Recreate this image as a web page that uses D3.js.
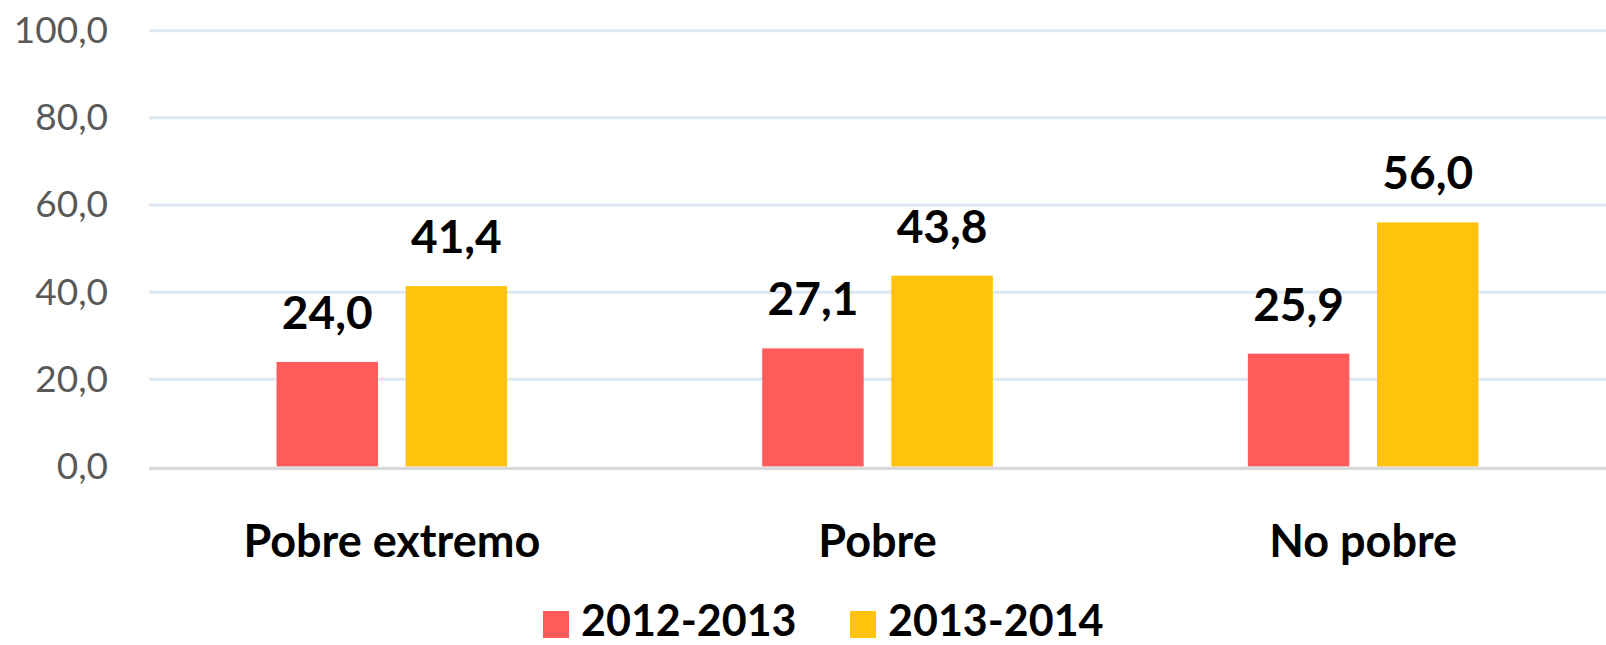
<!DOCTYPE html>
<html>
<head>
<meta charset="utf-8">
<script src="https://cdn.jsdelivr.net/npm/d3@7"></script>
<style>
    body { margin: 0; background: #fff; }
    text { font-family: Lato, "Open Sans", sans-serif; }
</style>
</head>
<body>
<script>
// data
var categories = ["Pobre extremo", "Pobre", "No pobre"]
  , seriesNames = ["2012-2013", "2013-2014"]
  , values2012 = [24.0, 27.1, 25.9]
  , values2013 = [41.4, 43.8, 56.0]
  , yTicks = [0, 20, 40, 60, 80, 100]
  ;

var width = 1606
  , height = 645
  , colors = ["#ff5b5b", "#fec30a"]
  , groupWidth = 230.6
  , fmt = function (v) { return d3.format(".1f")(v).replace(".", ","); }
  ;

var svg = d3.select("body").append("svg").attr("width", width).attr("height", height);

var x = d3.scaleBand().domain(categories).range([149, 1606]);
var y = d3.scaleLinear().domain([0, 100]).range([466.5, 30.7]);
var sub = d3.scaleBand().domain(seriesNames).range([0, groupWidth]).paddingInner(0.214);

function barX (d) { return x(d.cat) + (x.bandwidth() - groupWidth) / 2 + sub(d.s); }

// gridlines
svg.append("g").selectAll("line").data(yTicks.slice(1)).enter().append("line")
    .attr("x1", 149).attr("x2", width)
    .attr("y1", function (d) { return y(d); })
    .attr("y2", function (d) { return y(d); })
    .attr("stroke", "#dde7f3").attr("stroke-width", 3);

// y axis
var yAxis = svg.append("g").attr("transform", "translate(108,0)")
    .call(d3.axisLeft(y).tickValues(yTicks).tickFormat(fmt).tickSize(0).tickPadding(0));
yAxis.select(".domain").remove();
yAxis.selectAll("text")
    .attr("font-family", "Lato, sans-serif")
    .attr("font-size", 37)
    .attr("fill", "#595959");

// bars
var series = [values2012, values2013];
function rows (d, i) {
    return d.map(function (v, j) { return { cat: categories[j], s: seriesNames[i], v: v }; });
}
var groups = svg.append("g").selectAll("g").data(series).enter().append("g")
    .attr("fill", function (d, i) { return colors[i]; });

groups.selectAll("rect").data(rows).enter().append("rect")
    .attr("x", barX)
    .attr("y", function (d) { return y(d.v); })
    .attr("width", sub.bandwidth())
    .attr("height", function (d) { return y(0) - y(d.v); });

// value labels
groups.selectAll("text").data(rows).enter().append("text")
    .attr("x", function (d) { return barX(d) + sub.bandwidth() / 2; })
    .attr("y", function (d) { return y(d.v) - 33; })
    .attr("text-anchor", "middle")
    .attr("font-size", 46)
    .attr("font-weight", "bold")
    .attr("fill", "#000")
    .text(function (d) { return fmt(d.v); });

// baseline
svg.append("line")
    .attr("x1", 149).attr("x2", width)
    .attr("y1", y(0) + 1.8).attr("y2", y(0) + 1.8)
    .attr("stroke", "#d9d9d9").attr("stroke-width", 3.3);

// x axis labels
var xAxis = svg.append("g").attr("transform", "translate(0," + (y(0) + 2) + ")")
    .call(d3.axisBottom(x).tickSize(0).tickPadding(0));
xAxis.select(".domain").remove();
xAxis.selectAll("text")
    .attr("dy", null)
    .attr("y", 88)
    .attr("font-family", "Lato, sans-serif")
    .attr("font-size", 45)
    .attr("font-weight", "bold")
    .attr("fill", "#000");

// legend
var legendX = [543, 850];
var legend = svg.append("g").selectAll("g").data(seriesNames).enter().append("g")
    .attr("transform", function (d, i) { return "translate(" + legendX[i] + ",611)"; });
legend.append("rect")
    .attr("width", 26).attr("height", 27)
    .attr("fill", function (d, i) { return colors[i]; });
legend.append("text")
    .attr("x", 38).attr("y", 25)
    .attr("font-size", 43)
    .attr("font-weight", "bold")
    .attr("fill", "#000")
    .text(function (d) { return d; });
</script>
</body>
</html>
